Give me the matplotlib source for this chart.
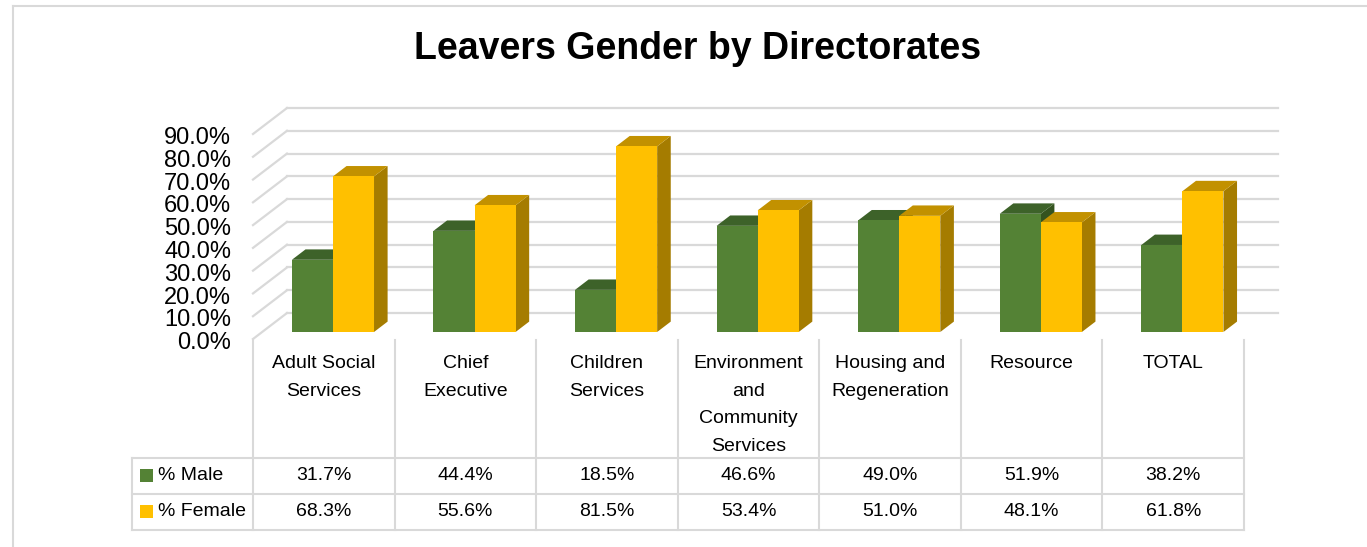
import matplotlib.pyplot as plt
from matplotlib.patches import Polygon, Rectangle
from matplotlib.lines import Line2D

plt.rcParams['font.family'] = ['Liberation Sans', 'DejaVu Sans']

# ---------------- data ----------------
categories = ["Adult Social\nServices", "Chief\nExecutive", "Children\nServices",
              "Environment\nand\nCommunity\nServices", "Housing and\nRegeneration",
              "Resource", "TOTAL"]
series_names = ["% Male", "% Female"]
male = [31.7, 44.4, 18.5, 46.6, 49.0, 51.9, 38.2]
female = [68.3, 55.6, 81.5, 53.4, 51.0, 48.1, 61.8]
y_ticks = [0, 10, 20, 30, 40, 50, 60, 70, 80, 90]

# ---------------- style ----------------
FACE = ["#548235", "#FFC000"]
TOP = ["#3D6229", "#C29100"]
SIDE = ["#34531f", "#A57C00"]
GRID = "#d9d9d9"

W, H = 1367, 547
fig = plt.figure(figsize=(W / 100, H / 100), dpi=100)

# outer chart frame (only top/left edges show)
fig.add_artist(Line2D([13 / W, 13 / W], [0, 1 - 6 / H], color=GRID, lw=1.5))
fig.add_artist(Line2D([13 / W, 1], [1 - 6 / H, 1 - 6 / H], color=GRID, lw=1.5))

fig.text(698 / W, 1 - 49 / H, "Leavers Gender by Directorates",
         ha="center", va="center", fontsize=27, fontweight="bold")

# front wall of the 3D plot area
ax = fig.add_axes([253 / W, (H - 339) / H, 991 / W, 205 / H])
n = len(categories)
ax.set_xlim(0, n)
ax.set_ylim(0, 90)
ax.axis("off")

DX, DY = 0.24, 11.4          # depth offset front -> back wall (data units)
F0, F1 = 0.27, 0.67          # bar front/back depth fractions
BW = 0.29                    # single bar width

# back wall gridlines + side wall diagonals
for v in y_ticks:
    ax.plot([DX, n + DX], [v + DY, v + DY], color=GRID, lw=1.6, clip_on=False, zorder=1)
    ax.plot([0, DX], [v, v + DY], color=GRID, lw=1.6, clip_on=False, zorder=1)
    ax.text(-0.155, v - 1.8, f"{v:.1f}%", ha="right", va="center", fontsize=17)


def bar3d(x, v, k):
    x0 = x + F0 * DX
    x1 = x0 + BW
    b0 = F0 * DY
    ox, oy = (F1 - F0) * DX, (F1 - F0) * DY
    side = [(x1, b0), (x1 + ox, b0 + oy), (x1 + ox, v + b0 + oy), (x1, v + b0)]
    top = [(x0, v + b0), (x1, v + b0), (x1 + ox, v + b0 + oy), (x0 + ox, v + b0 + oy)]
    ax.add_patch(Polygon(side, closed=True, fc=SIDE[k], ec="none", clip_on=False, zorder=3))
    ax.add_patch(Polygon(top, closed=True, fc=TOP[k], ec="none", clip_on=False, zorder=3))
    ax.add_patch(Rectangle((x0, b0), BW, v, fc=FACE[k], ec="none", clip_on=False, zorder=3))


for i in range(n):
    bar3d(i + 0.5 - BW, male[i], 0)
    bar3d(i + 0.5, female[i], 1)

# ---------------- data table ----------------
left = -(253 - 132) / (991 / n)
tab = fig.add_axes([132 / W, (H - 530) / H, (1244 - 132) / W, 190 / H])
tab.set_xlim(left, n)
tab.set_ylim(190, 0)
tab.axis("off")

HDR, R1, R2 = 118, 154, 190
lw_t = 1.5
for x in range(n + 1):
    tab.plot([x, x], [0, R2], color=GRID, lw=lw_t, clip_on=False)
tab.plot([left, left], [HDR, R2], color=GRID, lw=lw_t, clip_on=False)
for y in (HDR, R1, R2):
    tab.plot([left, n], [y, y], color=GRID, lw=lw_t, clip_on=False)

for i, c in enumerate(categories):
    tab.text(i + 0.5, 15, c, ha="center", va="top", fontsize=14, linespacing=1.82)

rows = [male, female]
for r, (name, vals) in enumerate(zip(series_names, rows)):
    yc = (HDR + R1) / 2 if r == 0 else (R1 + R2) / 2
    tab.add_patch(Rectangle((left + 8 / 141.6, yc - 7), 13 / 141.6, 13,
                            fc=FACE[r], ec="none", clip_on=False))
    tab.text(left + 26 / 141.6, yc, name, ha="left", va="center", fontsize=14)
    for i, v in enumerate(vals):
        tab.text(i + 0.5, yc, f"{v:.1f}%", ha="center", va="center", fontsize=14)

fig.savefig("out.png", dpi=100, facecolor="white")
